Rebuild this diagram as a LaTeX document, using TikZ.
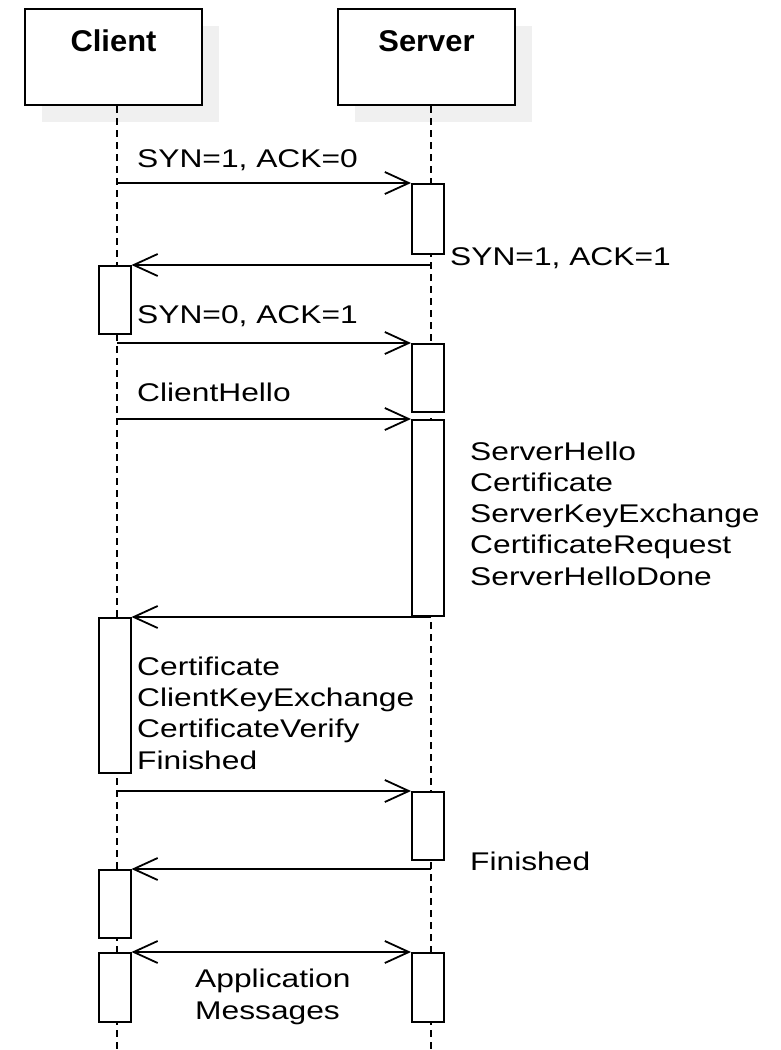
\documentclass[tikz,border=0pt]{standalone}
\usepackage{fontspec}
\setmainfont[FakeStretch=1.24]{Liberation Sans}
\newfontfamily\titlefont[FakeStretch=1.03]{Liberation Sans}
\usepackage{tikz}
\usetikzlibrary{arrows.meta,positioning,shadows}

\begin{document}
\begin{tikzpicture}[
    x=1pt, y=-1pt,
    actor/.style={rectangle, draw, line width=2pt, fill=white, inner sep=0pt, minimum width=177pt,
        text height=42pt, text depth=54pt, font=\titlefont\bfseries\fontsize{30}{36}\selectfont,
        drop shadow={shadow xshift=17pt, shadow yshift=-17pt, fill=black!6, opacity=1}},
    lifeline/.style={line width=2pt, dash pattern=on 7pt off 5pt},
    act/.style={rectangle, draw, line width=2pt, fill=white, inner sep=0pt, minimum width=32pt, anchor=north},
    barb/.tip={Straight Barb[length=24pt, width=22pt]},
    msg/.style={line width=1.8pt, -barb},
    txt/.style={inner sep=0pt, anchor=base west, align=left, font=\fontsize{25.6}{31.2}\selectfont}
]
\useasboundingbox (0,0) rectangle (781,1050);

% Participants
\node[actor, anchor=north] (client) at (113.5,8) {Client};
\node[actor, anchor=north] (server) at (426.5,8) {Server};

% Lifelines
\coordinate (cl) at (117,1050);
\coordinate (sl) at (431,1050);
\draw[lifeline] (client.south -| cl) -- (cl);
\draw[lifeline] (server.south -| sl) -- (sl);

% Activations
\node[act, minimum height=70pt] (s1) at (428,183) {};
\node[act, minimum height=68pt] (c1) at (114.5,265) {};
\node[act, minimum height=68pt] (s2) at (428,343) {};
\node[act, minimum height=196pt] (s3) at (428,419) {};
\node[act, minimum height=155pt] (c2) at (114.5,617) {};
\node[act, minimum height=68pt] (s4) at (428,791) {};
\node[act, minimum height=68pt] (c3) at (114.5,869) {};
\node[act, minimum height=69pt] (c4) at (114.5,952) {};
\node[act, minimum height=69pt] (s5) at (428,952) {};

% Messages
\draw[msg] (cl |- s1.north) -- (s1.north west);
\draw[msg] (sl |- c1.north) -- (c1.north east);
\draw[msg] (cl |- s2.north) -- (s2.north west);
\draw[msg] (cl |- s3.north) -- (s3.north west);
\draw[msg] (sl |- c2.north) -- (c2.north east);
\draw[msg] (cl |- s4.north) -- (s4.north west);
\draw[msg] (sl |- c3.north) -- (c3.north east);
\draw[msg, barb-barb] (c4.north east) -- (s5.north west);

% Labels (anchored on the last line)
\node[txt] (m1) at (137,167) {SYN=1, ACK=0};
\node[txt] (m2) at (450,265) {SYN=1, ACK=1};
\node[txt] (m3) at (137,323) {SYN=0, ACK=1};
\node[txt] (m4) at (137,401) {ClientHello};
\node[txt] (m5) at (470,585) {ServerHello\\Certificate\\ServerKeyExchange\\CertificateRequest\\ServerHelloDone};
\node[txt] (m6) at (137,769) {Certificate\\ClientKeyExchange\\CertificateVerify\\Finished};
\node[txt] (m7) at (470,870) {Finished};
\node[txt] (m8) at (195,1019) {Application\\Messages};

\end{tikzpicture}
\end{document}
